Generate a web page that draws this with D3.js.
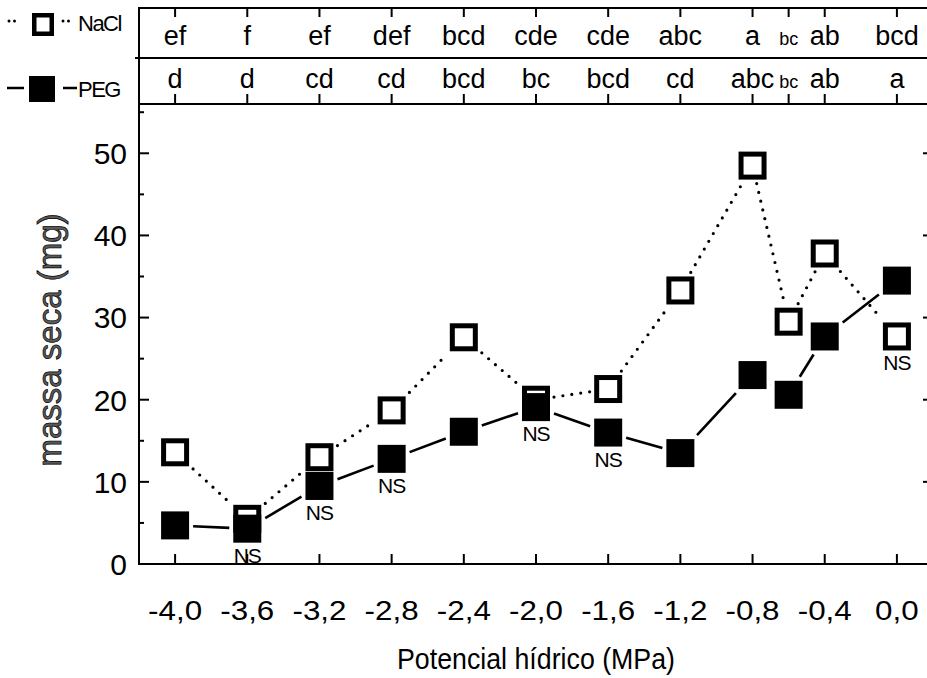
<!DOCTYPE html>
<html>
<head>
<meta charset="utf-8">
<script src="https://cdn.jsdelivr.net/npm/d3@7"></script>
<style>
  html, body { margin: 0; padding: 0; background: #fff; }
  svg { display: block; }
  text { font-family: "Liberation Sans", Arial, sans-serif; fill: #000; }
</style>
</head>
<body>
<svg id="chart" width="927" height="678"></svg>
<script>
// Water potential levels (MPa)
const potentials = [-4.0, -3.6, -3.2, -2.8, -2.4, -2.0, -1.6, -1.2, -0.8, -0.6, -0.4, 0.0];
// Dry mass (mg) per treatment
const naclMass = [13.6, 5.5, 13.0, 18.7, 27.6, 20.0, 21.3, 33.3, 48.5, 29.5, 37.8, 27.7];
const pegMass  = [4.7, 4.3, 9.5, 12.8, 16.1, 19.1, 16.0, 13.5, 23.0, 20.6, 27.7, 34.5];
// Mean-separation letters
const naclLetters = ["ef", "f", "ef", "def", "bcd", "cde", "cde", "abc", "a", "bc", "ab", "bcd"];
const pegLetters  = ["d", "d", "cd", "cd", "bcd", "bc", "bcd", "cd", "abc", "bc", "ab", "a"];
// Non-significant comparisons between treatments
const nsLevels = [-3.6, -3.2, -2.8, -2.0, -1.6, 0.0];
// Axis ticks
const xTicks = [-4.0, -3.6, -3.2, -2.8, -2.4, -2.0, -1.6, -1.2, -0.8, -0.4, 0.0];
const xTickLabels = ["-4,0", "-3,6", "-3,2", "-2,8", "-2,4", "-2,0", "-1,6", "-1,2", "-0,8", "-0,4", "0,0"];
const yTicks = [0, 10, 20, 30, 40, 50];
const yMinorTicks = [5, 15, 25, 35, 45, 55];

(function draw() {
  const svg = d3.select("#chart");

  const pLeft = 139, pRight = 933, pBottom = 564, pTop = 104;
  const boxTop = 8, boxMid = 58;

  const x = d3.scaleLinear().domain([-4.2, 0.2]).range([pLeft, pRight]);
  const y = d3.scaleLinear().domain([0, 56]).range([pBottom, pTop]);

  const ax = "#000";

  // ---- letters box above the plot ----
  const box = svg.append("g");
  [boxTop, boxMid, pTop].forEach(yy => {
    box.append("line").attr("x1", yy === boxMid ? pLeft - 4 : pLeft).attr("x2", pRight)
      .attr("y1", yy).attr("y2", yy).attr("stroke", ax).attr("stroke-width", 2);
  });
  potentials.forEach(p => {
    box.append("line").attr("x1", x(p)).attr("x2", x(p)).attr("y1", boxTop).attr("y2", boxTop + 9)
      .attr("stroke", ax).attr("stroke-width", 2);
    box.append("line").attr("x1", x(p)).attr("x2", x(p)).attr("y1", pTop).attr("y2", pTop - 10)
      .attr("stroke", ax).attr("stroke-width", 2);
  });
  const smallLetter = p => Math.abs(p + 0.6) < 1e-9;
  box.selectAll("text.nacl").data(potentials).join("text").attr("class", "nacl")
    .attr("x", d => x(d)).attr("y", 45).attr("text-anchor", "middle")
    .attr("font-size", d => smallLetter(d) ? 18 : 27)
    .text((d, i) => naclLetters[i]);
  box.selectAll("text.peg").data(potentials).join("text").attr("class", "peg")
    .attr("x", d => x(d)).attr("y", 88).attr("text-anchor", "middle")
    .attr("font-size", d => smallLetter(d) ? 18 : 27)
    .text((d, i) => pegLetters[i]);

  // ---- axes ----
  const axes = svg.append("g");
  axes.append("line").attr("x1", pLeft).attr("x2", pLeft).attr("y1", boxTop - 1).attr("y2", pBottom + 1)
    .attr("stroke", ax).attr("stroke-width", 2);
  axes.append("line").attr("x1", pRight).attr("x2", pRight).attr("y1", boxTop - 1).attr("y2", pBottom + 1)
    .attr("stroke", ax).attr("stroke-width", 2);
  axes.append("line").attr("x1", pLeft - 1).attr("x2", pRight).attr("y1", pBottom).attr("y2", pBottom)
    .attr("stroke", ax).attr("stroke-width", 2);

  yTicks.forEach(v => {
    axes.append("line").attr("x1", pLeft).attr("x2", pLeft + 10).attr("y1", y(v)).attr("y2", y(v))
      .attr("stroke", ax).attr("stroke-width", 2);
    axes.append("line").attr("x1", pRight - 10).attr("x2", pRight).attr("y1", y(v)).attr("y2", y(v))
      .attr("stroke", ax).attr("stroke-width", 2);
    axes.append("text").attr("x", 127).attr("y", y(v)).attr("dy", "0.36em")
      .attr("text-anchor", "end").attr("font-size", 30).text(v);
  });
  yMinorTicks.forEach(v => {
    axes.append("line").attr("x1", pLeft).attr("x2", pLeft + 5).attr("y1", y(v)).attr("y2", y(v))
      .attr("stroke", ax).attr("stroke-width", 2);
  });
  xTicks.forEach((v, i) => {
    axes.append("line").attr("x1", x(v)).attr("x2", x(v)).attr("y1", pBottom).attr("y2", pBottom - 10)
      .attr("stroke", ax).attr("stroke-width", 2);
    axes.append("text").attr("transform", `translate(${x(v)},620) scale(1.12,1)`)
      .attr("text-anchor", "middle").attr("font-size", 28)
      .text(xTickLabels[i]);
  });

  axes.append("text").attr("x", (pLeft + pRight) / 2).attr("y", 669).attr("text-anchor", "middle")
    .attr("font-size", 30).attr("textLength", 278).attr("lengthAdjust", "spacingAndGlyphs")
    .text("Potencial hídrico (MPa)");

  axes.append("text").attr("transform", "translate(61,340) rotate(-90)")
    .attr("text-anchor", "middle").attr("font-size", 33)
    .style("fill", "#5a5a5a").attr("stroke", "#000").attr("stroke-width", 0.7)
    .text("massa seca (mg)");

  // ---- series ----
  const half = 14, gap = 4;
  function segments(values) {
    const pts = potentials.map((p, i) => [x(p), y(values[i])]);
    const segs = [];
    for (let i = 0; i < pts.length - 1; i++) {
      const [x0, y0] = pts[i], [x1, y1] = pts[i + 1];
      const dx = x1 - x0, dy = y1 - y0;
      const t = (half + gap) / Math.max(Math.abs(dx), Math.abs(dy));
      if (t >= 0.5) continue;
      segs.push([[x0 + t * dx, y0 + t * dy], [x1 - t * dx, y1 - t * dy]]);
    }
    return segs;
  }
  const line = d3.line();

  const plot = svg.append("g");
  plot.selectAll("path.nacl").data(segments(naclMass)).join("path").attr("class", "nacl")
    .attr("d", line).attr("fill", "none").attr("stroke", "#000")
    .attr("stroke-width", 3.2).attr("stroke-linecap", "round").attr("stroke-dasharray", "0 9");
  plot.selectAll("path.peg").data(segments(pegMass)).join("path").attr("class", "peg")
    .attr("d", line).attr("fill", "none").attr("stroke", "#000").attr("stroke-width", 2.6);

  plot.selectAll("rect.nacl").data(potentials).join("rect").attr("class", "nacl")
    .attr("x", d => x(d) - half + 2.5).attr("y", (d, i) => y(naclMass[i]) - half + 2.5)
    .attr("width", 2 * half - 5).attr("height", 2 * half - 5)
    .attr("fill", "#fff").attr("stroke", "#000").attr("stroke-width", 5);
  plot.selectAll("rect.peg").data(potentials).join("rect").attr("class", "peg")
    .attr("x", d => x(d) - half).attr("y", (d, i) => y(pegMass[i]) - half)
    .attr("width", 2 * half).attr("height", 2 * half).attr("fill", "#000");

  // NS labels under the lower marker
  nsLevels.forEach(p => {
    const i = potentials.findIndex(v => Math.abs(v - p) < 1e-9);
    const low = Math.min(naclMass[i], pegMass[i]);
    plot.append("text").attr("x", x(p)).attr("y", y(low) + 34).attr("text-anchor", "middle")
      .attr("font-size", 21).attr("letter-spacing", -1).text("NS");
  });

  // ---- legend ----
  const lg = svg.append("g");
  lg.append("path").attr("d", "M9,21H18M63,21H72").attr("stroke", "#000").attr("stroke-width", 3)
    .attr("stroke-linecap", "round").attr("stroke-dasharray", "0 5.5").attr("fill", "none");
  lg.append("rect").attr("x", 34.25).attr("y", 15.25).attr("width", 17.5).attr("height", 18.5)
    .attr("fill", "#fff").attr("stroke", "#000").attr("stroke-width", 4.5);
  lg.append("text").attr("x", 78).attr("y", 31).attr("font-size", 22).attr("letter-spacing", -1.5).text("NaCl");

  lg.append("path").attr("d", "M7,88H24M63,88H77").attr("stroke", "#000").attr("stroke-width", 2.6).attr("fill", "none");
  lg.append("rect").attr("x", 29).attr("y", 76).attr("width", 26).attr("height", 26).attr("fill", "#000");
  lg.append("text").attr("x", 78).attr("y", 97).attr("font-size", 22).attr("letter-spacing", -1.5).text("PEG");
})();
</script>
</body>
</html>
